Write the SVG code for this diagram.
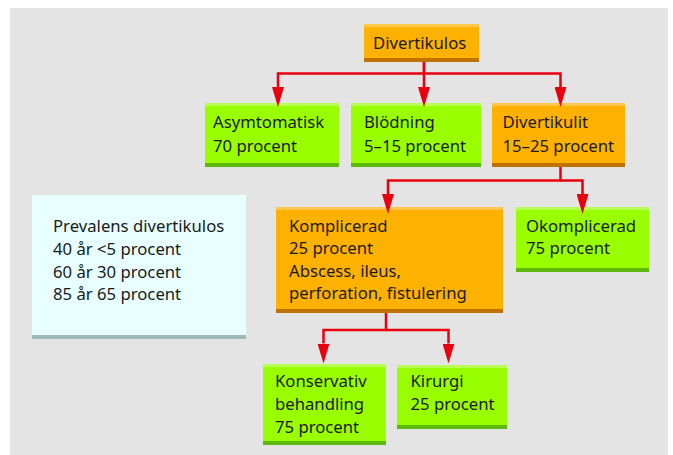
<svg xmlns="http://www.w3.org/2000/svg" width="673" height="455" viewBox="0 0 673 455">
<defs>
<style>
text{font-family:"Noto Sans","Open Sans","Liberation Sans",sans-serif;font-size:16.7px;fill:#1a1a1a}
.or{fill:#ffb100}
.orT{fill:#ffc84a}
.orB{fill:#c07200}
.gr{fill:#99ff00}
.grT{fill:#b8ff55}
.grB{fill:#5cb80a}
.con{fill:none;stroke:#e8000e;stroke-width:2.5;marker-end:url(#ah)}
</style>
<marker id="ah" viewBox="0 0 20 12" refX="0" refY="6" markerWidth="20" markerHeight="12" markerUnits="userSpaceOnUse" orient="auto">
<path d="M0,0 L20,6 L0,12 z" fill="#e8000e"/>
</marker>
</defs>
<rect x="10" y="8" width="658" height="447" fill="#e4e4e4"/>

<g id="prevalens">
<rect x="32" y="195" width="214" height="144" fill="#e8ffff"/>
<rect x="32" y="335" width="214" height="4" fill="#9bbbbb"/>
<text x="53" y="232">Prevalens divertikulos</text>
<text x="53" y="255">40 år &lt;5 procent</text>
<text x="53" y="277.5">60 år 30 procent</text>
<text x="53" y="299.5">85 år 65 procent</text>
</g>

<g id="divertikulos">
<rect class="or" x="364" y="24" width="115" height="38"/>
<rect class="orT" x="364" y="24" width="115" height="3"/>
<rect class="orB" x="364" y="58" width="115" height="4"/>
<text x="373" y="49">Divertikulos</text>
</g>

<g id="asymtomatisk">
<rect class="gr" x="205" y="103" width="134" height="64"/>
<rect class="grT" x="205" y="103" width="134" height="3"/>
<rect class="grB" x="205" y="163" width="134" height="4"/>
<text x="213" y="128">Asymtomatisk</text>
<text x="213" y="151.5">70 procent</text>
</g>

<g id="blodning">
<rect class="gr" x="351" y="103" width="130" height="64"/>
<rect class="grT" x="351" y="103" width="130" height="3"/>
<rect class="grB" x="351" y="163" width="130" height="4"/>
<text x="364" y="128">Blödning</text>
<text x="364" y="151.5">5–15 procent</text>
</g>

<g id="divertikulit">
<rect class="or" x="492" y="103" width="133" height="64"/>
<rect class="orT" x="492" y="103" width="133" height="3"/>
<rect class="orB" x="492" y="163" width="133" height="4"/>
<text x="502.5" y="128">Divertikulit</text>
<text x="502.5" y="151.5">15–25 procent</text>
</g>

<g id="komplicerad">
<rect class="or" x="276" y="207" width="227" height="106"/>
<rect class="orT" x="276" y="207" width="227" height="3"/>
<rect class="orB" x="276" y="309" width="227" height="4"/>
<text x="289" y="231.5">Komplicerad</text>
<text x="289" y="254">25 procent</text>
<text x="289" y="276.5">Abscess, ileus,</text>
<text x="289" y="298.5">perforation, fistulering</text>
</g>

<g id="okomplicerad">
<rect class="gr" x="516" y="207" width="133" height="65"/>
<rect class="grT" x="516" y="207" width="133" height="3"/>
<rect class="grB" x="516" y="268" width="133" height="4"/>
<text x="526" y="231.5">Okomplicerad</text>
<text x="526" y="254">75 procent</text>
</g>

<g id="konservativ">
<rect class="gr" x="263" y="364" width="123" height="81"/>
<rect class="grT" x="263" y="364" width="123" height="3"/>
<rect class="grB" x="263" y="441" width="123" height="4"/>
<text x="275" y="387">Konservativ</text>
<text x="275" y="410">behandling</text>
<text x="275" y="432.5">75 procent</text>
</g>

<g id="kirurgi">
<rect class="gr" x="397" y="365" width="110" height="64"/>
<rect class="grT" x="397" y="365" width="110" height="3"/>
<rect class="grB" x="397" y="425" width="110" height="4"/>
<text x="410.5" y="387">Kirurgi</text>
<text x="410.5" y="410">25 procent</text>
</g>

<g id="connectors">
<path class="con" d="M424,62 V73.5 H278 V87"/>
<path class="con" d="M424,62 V87"/>
<path class="con" d="M424,73.5 H560.5 V87"/>
<path class="con" d="M560.5,167 V180.5 H388 V194"/>
<path class="con" d="M560.5,180.5 H582.5 V194"/>
<path class="con" d="M386,313 V330 H323.5 V343.5"/>
<path class="con" d="M386,330 H448.5 V343.5"/>
</g>
</svg>
